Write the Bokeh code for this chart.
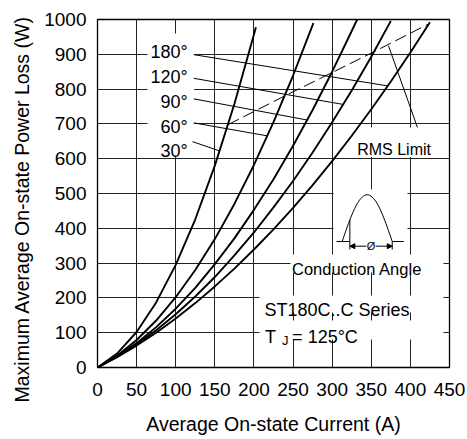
import numpy as np
from bokeh.plotting import figure
from bokeh.models import Range1d, FixedTicker, Arrow, NormalHead, Title
from bokeh.core.properties import value
from bokeh.embed import file_html
from bokeh.resources import INLINE

# ---------------- data ----------------
curve_30_x = [0, 25, 50, 75, 100, 125, 150, 175, 200, 202.5]
curve_30_y = [0, 40, 102, 187, 295, 426, 580, 757, 957, 978]

curve_60_x = [0, 25, 50, 75, 100, 125, 150, 175, 200, 225, 250, 275, 276]
curve_60_y = [0, 34, 79, 135, 202, 280, 369, 470, 582, 705, 839, 984, 990]

curve_90_x = [0, 25, 50, 75, 100, 125, 150, 175, 200, 225, 250, 275, 300, 325, 332]
curve_90_y = [0, 32, 70, 116, 169, 229, 297, 371, 453, 541, 637, 740, 850, 967, 1000]

curve_120_x = [0, 25, 50, 75, 100, 125, 150, 175, 200, 225, 250, 275, 300, 325, 350, 375]
curve_120_y = [0, 31, 66, 107, 153, 204, 260, 322, 388, 460, 536, 618, 705, 796, 893, 996]

curve_180_x = [0, 25, 50, 75, 100, 125, 150, 175, 200, 225, 250, 275, 300, 325, 350, 375, 400, 425]
curve_180_y = [0, 30, 63, 100, 141, 185, 233, 284, 339, 397, 459, 524, 593, 666, 742, 822, 905, 992]

rms_x = [167, 239, 299.5, 354, 424]
rms_y = [698, 780, 847, 908, 988]

angle_labels = ["180°", "120°", "90°", "60°", "30°"]
x_ticks = [0, 50, 100, 150, 200, 250, 300, 350, 400, 450]
y_ticks = [0, 100, 200, 300, 400, 500, 600, 700, 800, 900, 1000]

x_title = "Average On-state Current (A)"
y_title = "Maximum Average On-state Power Loss (W)"
rms_text = "RMS Limit"
cond_text = "Conduction Angle"
series_text = "ST180C..C Series"

FONT = value("Liberation Sans")

p = figure(width=467, height=439, output_backend="svg", toolbar_location=None,
           x_range=Range1d(0, 450), y_range=Range1d(0, 1000),
           min_border_left=97, min_border_right=18, min_border_top=19, min_border_bottom=72)
p.background_fill_color = "white"
p.border_fill_color = "white"
p.outline_line_color = "black"
p.outline_line_width = 1.3

for ax in (p.xaxis[0], p.yaxis[0]):
    ax.axis_line_color = None
    ax.major_tick_line_color = None
    ax.minor_tick_line_color = None
    ax.major_tick_out = 0
    ax.major_tick_in = 0
    ax.major_label_text_font = "Liberation Sans"
    ax.major_label_text_font_size = "19px"
    ax.major_label_text_color = "black"
p.xaxis.ticker = FixedTicker(ticks=x_ticks)
p.yaxis.ticker = FixedTicker(ticks=y_ticks)
p.xaxis.major_label_standoff = 15
p.yaxis.major_label_standoff = 11
p.xaxis.axis_label = x_title
p.xaxis.axis_label_text_font = "Liberation Sans"
p.xaxis.axis_label_text_font_size = "19.5px"
p.xaxis.axis_label_text_font_style = "normal"
p.xaxis.axis_label_text_color = "black"
p.xaxis.axis_label_standoff = 14
p.xgrid.ticker = FixedTicker(ticks=x_ticks)
p.ygrid.ticker = FixedTicker(ticks=y_ticks)
p.grid.grid_line_color = "#222222"
p.grid.grid_line_width = 1

# vertical axis title, placed as a side title so it can be shifted along the axis
p.add_layout(Title(text=y_title, align="left", vertical_align="middle", offset=-35,
                   standoff=16, text_font="Liberation Sans", text_font_size="19.5px",
                   text_font_style="normal", text_color="black"), "left")

# white boxes that break the grid behind the texts
box_l = [63.9, 326.4, 301.7, 246.7, 207.1, 207.1]
box_r = [123.5, 433.8, 396.3, 442.3, 442.3, 442.3]
box_t = [960, 689.7, 511.5, 324.7, 207, 135]
box_b = [609, 605, 324.7, 273, 158, 80.5]
p.quad(left=box_l, right=box_r, top=box_t, bottom=box_b, fill_color="white", line_color=None)

curves = [(curve_180_x, curve_180_y), (curve_120_x, curve_120_y), (curve_90_x, curve_90_y),
          (curve_60_x, curve_60_y), (curve_30_x, curve_30_y)]

# leader lines from the angle labels to their curves
lead_start_x = [123, 123, 123, 123, 121.5]
lead_start_y = [899, 831, 772, 703, 649]
lead_end_x = [371, 314, 268, 217, 156]
lead_end_y = [float(np.interp(ex, cx, cy)) for ex, (cx, cy) in zip(lead_end_x, curves)]
p.segment(x0=lead_start_x, y0=lead_start_y, x1=lead_end_x, y1=lead_end_y,
          line_color="black", line_width=1)

# RMS limit dashed line and its leader
p.line(rms_x, rms_y, line_color="black", line_width=1, line_dash="12 5")
rms_lead_x0 = 372
rms_lead_y0 = float(np.interp(rms_lead_x0, rms_x, rms_y)) - 4
p.segment(x0=[rms_lead_x0], y0=[rms_lead_y0], x1=[409], y1=[690], line_color="black", line_width=1)

for cx, cy in curves:
    p.line(cx, cy, line_color="black", line_width=1.9)

# angle labels
p.text(x=[115.2] * 5, y=[906, 836, 762, 690.5, 621.5], text=angle_labels,
       text_font=FONT, text_font_size=value("18px"), text_align="right",
       text_baseline="alphabetic", text_color="black")

p.text(x=[332], y=[625.6], text=[rms_text], text_font=FONT, text_font_size=value("16px"),
       text_baseline="alphabetic", text_color="black")
p.text(x=[248.6], y=[283.6], text=[cond_text], text_font=FONT, text_font_size=value("16.5px"),
       text_baseline="alphabetic", text_color="black")
p.text(x=[213.5], y=[163.8], text=[series_text], text_font=FONT, text_font_size=value("18px"),
       text_baseline="alphabetic", text_color="black")
p.text(x=[214], y=[89], text=["T"], text_font=FONT, text_font_size=value("18px"),
       text_baseline="alphabetic", text_color="black")
p.text(x=[236], y=[79], text=["J"], text_font=FONT, text_font_size=value("13px"),
       text_baseline="alphabetic", text_color="black")
p.text(x=[248.8], y=[89], text=["= 125°C"], text_font=FONT, text_font_size=value("18px"),
       text_baseline="alphabetic", text_color="black")

# conduction-angle inset drawing
hx0, hx1, hbase, hpeak = 312.8, 376.8, 362.0, 496.3
t = np.linspace(0, 1, 41)
hump_x = hx0 + (hx1 - hx0) * t
hump_y = hbase + (hpeak - hbase) * np.sin(np.pi * t)
p.line(hump_x, hump_y, line_color="black", line_width=1)
fire_x = 322.6
fire_y = float(np.interp(fire_x, hump_x, hump_y))
p.segment(x0=[305.6, 376.8, fire_x, fire_x, hx1], y0=[hbase, hbase, hbase, hbase, hbase],
          x1=[fire_x, 391.6, fire_x, fire_x, hx1], y1=[hbase, hbase, fire_y, 339, 339],
          line_color="black", line_width=1)
arr_y = 348.6
mid = (fire_x + hx1) / 2
p.add_layout(Arrow(end=NormalHead(size=5, fill_color="black", line_color="black"),
                   x_start=mid - 6, y_start=arr_y, x_end=fire_x, y_end=arr_y, line_width=1))
p.add_layout(Arrow(end=NormalHead(size=5, fill_color="black", line_color="black"),
                   x_start=mid + 6, y_start=arr_y, x_end=hx1, y_end=arr_y, line_width=1))
p.text(x=[mid], y=[arr_y], text=["Ø"], text_font=FONT, text_font_size=value("11px"),
       text_align="center", text_baseline="middle", text_color="black")

open("out.html", "w").write(file_html(p, INLINE))
